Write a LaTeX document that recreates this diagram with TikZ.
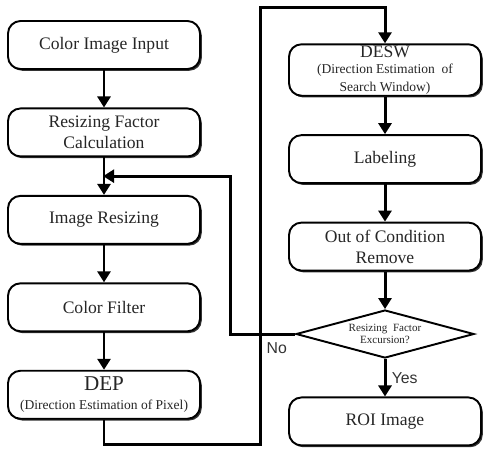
\documentclass[tikz,border=0pt]{standalone}
\usepackage{fontspec}
\setmainfont{Liberation Serif}
\newfontfamily\ynfont{Liberation Sans}
\usetikzlibrary{arrows.meta,positioning,shapes.geometric,shadows,calc}
\newcommand{\subtxt}{\fontsize{7.7}{8}\selectfont}

\begin{document}
\begin{tikzpicture}[font=\normalsize, node distance=7.5mm,
  blk/.style={draw, rounded corners=2.5mm, line width=1.1pt, fill=white, minimum width=38.4mm,
    minimum height=9.6mm, inner sep=1pt, align=center, text=black!85,
    drop shadow={shadow xshift=1pt, shadow yshift=-1pt, opacity=1, fill=black!80}},
  ask/.style={draw, diamond, aspect=3.6, line width=1.1pt, fill=white, minimum width=35.6mm,
    minimum height=9.6mm, inner sep=0pt, align=center, font=\fontsize{6.3}{7}\selectfont, text=black!85},
  flw/.style={-{Triangle[length=2.2mm,width=2.6mm]}, line width=1.7pt},
  yn/.style={font=\ynfont\small, text=black!80}]
\useasboundingbox (0,0) rectangle (9.94,-9.14);
% left column
\node[blk] (input) at (2.08,-0.9) {Color Image Input};
\node[blk,below=of input] (rfc) {Resizing Factor\\Calculation};
\node[blk,below=of rfc] (resize) {Image Resizing};
\node[blk,below=of resize] (filter) {Color Filter};
\node[blk,below=of filter] (dep) {{\large DEP}\\[-1pt]{\subtxt (Direction Estimation of Pixel)}};
% right column
\node[blk] (desw) at (7.7,-1.4) {DESW\\[-3pt]{\subtxt (Direction Estimation\enspace of}\\[-2pt]{\subtxt Search Window)}};
\node[blk,below=of desw] (label) {Labeling};
\node[blk,below=of label] (ocr) {Out of Condition\\Remove};
\node[ask,below=of ocr] (excur) {Resizing\enspace Factor\\Excursion?};
\node[blk,below=of excur] (roi) {ROI Image};
\coordinate (back) at ($(rfc.south)!0.5!(resize.north)$);
% arrows
\draw[flw](input)--(rfc);
\draw[flw](rfc)--(resize);
\draw[flw](resize)--(filter);
\draw[flw](filter)--(dep);
\draw[flw](dep.south)--++(0,-0.5)-|(5.2,-0.14)-|(desw.north);
\draw[flw](desw)--(label);
\draw[flw](label)--(ocr);
\draw[flw](ocr)--(excur);
\draw[flw](excur)--node[right,yn,inner sep=3pt]{Yes}(roi);
\draw[flw,shorten >=-0.5pt](excur.west)--node[pos=0.28,below,yn,inner sep=4pt]{No}++(-1.3,0)|-(back);
\end{tikzpicture}
\end{document}
